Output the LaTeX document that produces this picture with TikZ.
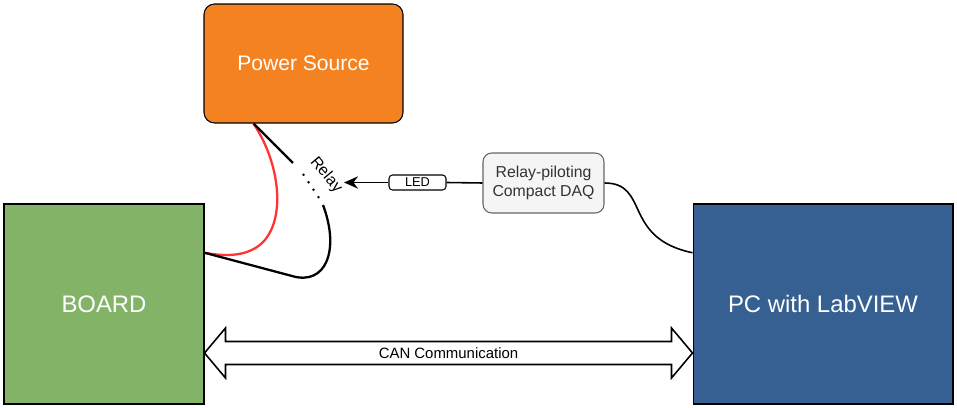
\documentclass[tikz,border=0pt]{standalone}
\usepackage{fontspec}
\setmainfont{Liberation Sans}
\usetikzlibrary{calc,arrows.meta}
\definecolor{psorange}{RGB}{245,130,32}
\definecolor{boardgreen}{RGB}{130,179,102}
\definecolor{pcblue}{RGB}{54,96,146}
\definecolor{daqfill}{RGB}{245,245,245}
\definecolor{daqline}{RGB}{102,102,102}
\definecolor{daqtext}{RGB}{51,51,51}
\definecolor{wirered}{RGB}{255,51,51}
\tikzset{
	block/.style={draw=black, line width=0.6pt, text=white, inner sep=0pt},
	wire/.style={line width=1.3pt},
}

\begin{document}
\begin{tikzpicture}[x=0.02cm, y=-0.02cm]
		%%%%% START %%%%%
		\useasboundingbox (0, 0) rectangle (957, 408);
		
		\node[block, fill=psorange, rounded corners=6pt, minimum width=3.98cm, minimum height=2.38cm, font=\fontsize{12}{14}\selectfont] (ps) at (303.5, 63.5) {Power Source};
		\node[block, fill=boardgreen, minimum width=4cm, minimum height=4cm, font=\fontsize{13.6}{16}\selectfont] (board) at (104, 304) {BOARD};
		\node[block, fill=pcblue, minimum width=5.2cm, minimum height=4cm, font=\fontsize{13.6}{16}\selectfont] (pc) at (823, 304) {PC with LabVIEW};
		
		\node[draw=daqline, fill=daqfill, text=daqtext, line width=0.6pt, rounded corners=5pt, minimum width=2.42cm, minimum height=1.2cm, align=center, inner sep=0pt, font=\fontsize{9}{11}\selectfont] (daq) at (543.5, 183) {Relay-piloting\\Compact DAQ};
		\node[draw=black, fill=white, line width=0.6pt, rounded corners=2pt, minimum width=1.14cm, minimum height=0.3cm, inner sep=0pt, font=\fontsize{7.3}{8}\selectfont] (led) at (417.5, 182.5) {LED};
		
		%%%%% RELAY %%%%%
		\coordinate (psout) at ($(ps.south west)!0.25!(ps.south east)$);
		\coordinate (boardin) at ($(board.north east)!0.245!(board.south east)$);
		\coordinate (relayA) at (293, 163);
		\coordinate (relayB) at (303, 174);
		\coordinate (relayC) at (321, 201);
		\coordinate (relayD) at (323, 205);
		\coordinate (relaytip) at (344, 182.5);
		\node[rotate=-50, font=\fontsize{9}{11}\selectfont, inner sep=1pt] (relay) at (326, 175) {Relay};
		
		\draw[wire, color=wirered] (psout) .. controls (283, 168) and (286, 228) .. (257, 247) .. controls (242, 257) and (222, 256) .. (boardin);
		\draw[wire] (psout) -- (relayA);
		\draw[line width=1.1pt, dash pattern=on 1.1pt off 4pt] (relayB) -- (relayC);
		\draw[wire] (relayD) .. controls (340, 250) and (326, 286) .. (292, 276) -- (boardin);
		
		%%%%% DAQ %%%%%
		\draw[line width=0.9pt] (daq.west) -- (led.east);
		\draw[line width=0.9pt, -{Stealth[length=8pt, width=7pt]}] (led.west) -- (relaytip);
		\draw[line width=0.9pt] (daq.east) .. controls (650, 183) and (622, 238) .. ($(pc.north west)!0.245!(pc.south west)$);
		
		%%%%% CAN %%%%%
		\coordinate (canL) at ($(board.east)+(0, 49)$);
		\coordinate (canR) at ($(pc.west)+(0, 49)$);
		\draw[line width=0.9pt, fill=white] (canL) -- ++(21, -25) -- ++(0, 13.5) -- ($(canR)+(-21, -11.5)$) -- ++(0, -13.5) -- (canR) -- ++(-21, 25) -- ++(0, -13.5) -- ($(canL)+(21, 11.5)$) -- ++(0, 13.5) -- cycle;
		\node[font=\fontsize{8.5}{10}\selectfont] (can) at ($(canL)!0.5!(canR)$) {CAN Communication};
		
		%%%%% END %%%%%
	\end{tikzpicture}
\end{document}
